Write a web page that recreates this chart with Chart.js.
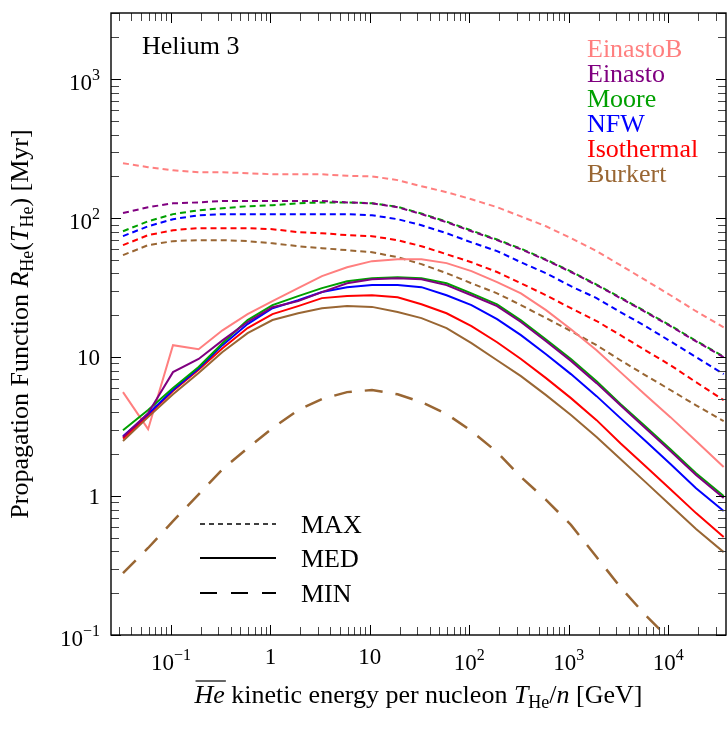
<!DOCTYPE html>
<html><head><meta charset="utf-8">
<script src="https://cdn.jsdelivr.net/npm/chart.js@4/dist/chart.umd.min.js"></script>
<style>html,body{margin:0;padding:0;background:#fff;}#wrap{width:727px;height:729px;}</style>
</head><body><div id="wrap"><canvas id="c" width="727" height="729"></canvas></div>
<script>
// Kinetic energy per nucleon [GeV]
const energy = [0.033, 0.059, 0.105, 0.19, 0.33, 0.59, 1.05, 1.9, 3.3, 5.9, 10.5, 19, 33, 59, 105, 190, 330, 590, 1050, 1900, 3300, 5900, 10500, 19000, 36000];

// MAX propagation (short dashed)
const einastoB_max = [249, 233, 221, 214, 214, 211, 207, 207, 207, 202, 200, 188, 170, 154, 137, 120, 103, 87.5, 71.8, 58, 45.9, 35.8, 27.9, 21.4, 16.4];
const einasto_max  = [109, 120, 128, 130, 133, 133, 133, 133, 133, 130, 128, 120, 107, 93.6, 80.6, 69.5, 59.8, 49.9, 41, 33, 26.6, 21.1, 16.7, 13, 10];
const moore_max    = [80.6, 95, 107, 114, 118, 122, 124, 128, 130, 130, 128, 121, 108, 94.5, 81.5, 70.2, 60.4, 50.4, 41.4, 33.3, 26.9, 21.3, 16.9, 13.1, 10.1];
const nfw_max      = [74.3, 87.5, 98.4, 105, 107, 107, 107, 107, 107, 107, 105, 98.4, 89, 78, 67, 58, 48.2, 40.2, 32.4, 26.6, 21.1, 16.7, 13, 10, 7.55];
const iso_max      = [64, 75.5, 82, 84.8, 84.8, 84.8, 83.4, 79.3, 78, 75.5, 74.3, 69.5, 62.9, 55.1, 48.2, 41, 34, 27.9, 22.5, 18.2, 14.4, 11.2, 8.75, 6.6, 4.9];
const burkert_max  = [54.2, 64, 68.4, 69.5, 69.5, 68.4, 66, 62.9, 60.8, 58.9, 56.9, 52.4, 46.7, 40.2, 34, 28.8, 23.7, 19.1, 15.4, 12.2, 9.5, 7.4, 5.8, 4.5, 3.46];

// MED propagation (solid)
const einastoB_med = [5.6, 3.03, 12.2, 11.4, 15.6, 20.4, 25.3, 31.4, 38.3, 44.4, 49.1, 50.7, 50.7, 47.5, 41.6, 34.7, 28.8, 21.8, 15.9, 11.2, 7.8, 5.33, 3.7, 2.49, 1.62];
const einasto_med  = [2.66, 3.95, 7.8, 9.7, 13.2, 17.9, 22.9, 25.3, 29.4, 34, 36.4, 37, 36.4, 33, 27.9, 23.3, 17.9, 13, 9.4, 6.5, 4.5, 3.08, 2.11, 1.42, 0.97];
const moore_med    = [2.98, 4.16, 6.0, 8.5, 12.6, 18.5, 23.7, 27.5, 31.4, 35.2, 37, 37.6, 37, 34, 28.8, 24, 18.4, 13.4, 9.7, 6.7, 4.6, 3.17, 2.17, 1.46, 1.0];
const nfw_med      = [2.7, 3.9, 5.8, 8.3, 12.2, 17.3, 22.5, 25.7, 29.4, 31.9, 33, 33, 31.9, 27.9, 23.7, 18.8, 14.4, 10.5, 7.55, 5.24, 3.64, 2.49, 1.7, 1.14, 0.78];
const iso_med      = [2.6, 3.83, 5.7, 8.1, 11.6, 16.2, 20.4, 23.3, 26.6, 27.5, 27.9, 27, 24, 20.7, 16.7, 12.8, 9.7, 7.06, 5.07, 3.52, 2.4, 1.64, 1.12, 0.754, 0.507];
const burkert_med  = [2.49, 3.7, 5.4, 7.7, 10.9, 14.9, 18.5, 20.7, 22.5, 23.3, 23, 21.1, 19.1, 16.2, 12.6, 9.5, 7.3, 5.33, 3.83, 2.66, 1.85, 1.26, 0.86, 0.58, 0.395];

// MIN propagation (long dashed)
const burkert_min  = [0.279, 0.423, 0.66, 1.03, 1.56, 2.21, 3.08, 4.16, 4.99, 5.6, 5.8, 5.4, 4.75, 3.9, 2.94, 2.07, 1.37, 0.94, 0.62, 0.364, 0.221, 0.139, 0.092, 0.061, 0.041];

const seriesNames  = ['EinastoB', 'Einasto', 'Moore', 'NFW', 'Isothermal', 'Burkert'];
const seriesColors = ['#ff7f7f', '#800080', '#00a000', '#0000ff', '#ff0000', '#996633'];
const styleNames   = ['MAX', 'MED', 'MIN'];

const xTickValues = [0.1, 1, 10, 100, 1000, 10000];
const xTickLabels = [['10','\u22121'], ['1',''], ['10',''], ['10','2'], ['10','3'], ['10','4']];
const yTickValues = [0.1, 1, 10, 100, 1000];
const yTickLabels = [['10','\u22121'], ['1',''], ['10',''], ['10','2'], ['10','3']];

const pts = arr => arr.map((v, i) => ({x: energy[i], y: v}));
const FONT = '"Liberation Serif", "Times New Roman", serif';

const maxSets = [einastoB_max, einasto_max, moore_max, nfw_max, iso_max, burkert_max];
const medSets = [einastoB_med, einasto_med, moore_med, nfw_med, iso_med, burkert_med];
const drawOrder = [1, 2, 3, 4, 5, 0];

const datasets = [];
datasets.push({label: 'Burkert MIN', data: pts(burkert_min), borderColor: seriesColors[5], borderWidth: 2.5, borderDash: [18, 13]});
drawOrder.forEach(i => datasets.push({label: seriesNames[i] + ' MED', data: pts(medSets[i]), borderColor: seriesColors[i], borderWidth: 2}));
drawOrder.forEach(i => datasets.push({label: seriesNames[i] + ' MAX', data: pts(maxSets[i]), borderColor: seriesColors[i], borderWidth: 2, borderDash: [6, 4]}));

function drawRich(ctx, parts, x, y, align) {
  let w = 0;
  parts.forEach(p => { ctx.font = p.f; p.w = ctx.measureText(p.t).width; w += p.w; });
  let cx = align === 'center' ? x - w / 2 : (align === 'right' ? x - w : x);
  ctx.textAlign = 'left';
  parts.forEach(p => {
    ctx.font = p.f;
    ctx.fillText(p.t, cx, y + (p.dy || 0));
    if (p.over) {
      ctx.save(); ctx.lineWidth = 1.2; ctx.beginPath();
      ctx.moveTo(cx + 1, y - 22); ctx.lineTo(cx + p.w + 1, y - 22); ctx.stroke(); ctx.restore();
    }
    cx += p.w;
  });
}
function powParts(lab, size, supSize) {
  const parts = [{t: lab[0], f: size + 'px ' + FONT}];
  if (lab[1]) parts.push({t: lab[1], f: supSize + 'px ' + FONT, dy: -10});
  return parts;
}

const deco = {
  id: 'deco',
  afterDraw(chart) {
    const ctx = chart.ctx, xs = chart.scales.x, ys = chart.scales.y, a = chart.chartArea;
    ctx.save();
    ctx.fillStyle = '#000'; ctx.strokeStyle = '#000';
    const seg = (x1, y1, x2, y2) => { ctx.beginPath(); ctx.moveTo(x1, y1); ctx.lineTo(x2, y2); ctx.stroke(); };
    ctx.lineWidth = 1;
    for (let d = -2; d <= 4; d++) for (let m = 1; m <= 9; m++) {
      const v = m * Math.pow(10, d);
      if (v < xs.min || v > xs.max) continue;
      const px = Math.round(xs.getPixelForValue(v)) + 0.5;
      const len = m === 1 ? 10 : 8;
      ctx.strokeStyle = m === 1 ? '#000' : '#444';
      seg(px, a.bottom, px, a.bottom - len); seg(px, a.top, px, a.top + len);
    }
    for (let d = -1; d <= 3; d++) for (let m = 1; m <= 9; m++) {
      const v = m * Math.pow(10, d);
      if (v < ys.min || v > ys.max) continue;
      const py = Math.round(ys.getPixelForValue(v)) + 0.5;
      const len = m === 1 ? 10 : 8;
      ctx.strokeStyle = m === 1 ? '#000' : '#444';
      seg(a.left, py, a.left + len, py); seg(a.right, py, a.right - len, py);
    }
    ctx.strokeStyle = '#000'; ctx.lineWidth = 1.4;
    ctx.strokeRect(a.left, a.top, a.right - a.left, a.bottom - a.top);

    // tick labels
    ctx.textBaseline = 'alphabetic';
    xTickValues.forEach((v, i) => {
      const lab = xTickLabels[i];
      const px = xs.getPixelForValue(v);
      drawRich(ctx, powParts(lab, 23, 16), px, lab[1] ? a.bottom + 35 : a.bottom + 29, 'center');
    });
    yTickValues.forEach((v, i) => {
      const lab = yTickLabels[i];
      const py = ys.getPixelForValue(v);
      drawRich(ctx, powParts(lab, 23, 16), 100, lab[1] ? py + 11 : py + 8, 'right');
    });

    // axis titles
    const F26 = '26px ' + FONT, I26 = 'italic 26px ' + FONT, S18 = '18px ' + FONT;
    drawRich(ctx, [
      {t: 'He', f: I26, over: true}, {t: ' kinetic energy per nucleon ', f: F26},
      {t: 'T', f: I26}, {t: 'He', f: S18, dy: 5}, {t: '/', f: F26}, {t: 'n', f: I26}, {t: ' [GeV]', f: F26}
    ], (a.left + a.right) / 2, 703, 'center');
    ctx.save();
    ctx.translate(28, (a.top + a.bottom) / 2); ctx.rotate(-Math.PI / 2);
    drawRich(ctx, [
      {t: 'Propagation Function ', f: F26}, {t: 'R', f: I26}, {t: 'He', f: S18, dy: 5},
      {t: '(', f: F26}, {t: 'T', f: I26}, {t: 'He', f: S18, dy: 5}, {t: ')', f: F26}, {t: ' [Myr]', f: F26}
    ], 0, 0, 'center');
    ctx.restore();

    // panel title
    ctx.font = F26; ctx.textAlign = 'left'; ctx.fillStyle = '#000';
    ctx.fillText('Helium 3', 142, 54);

    // colour legend
    seriesNames.forEach((n, i) => {
      ctx.fillStyle = seriesColors[i];
      ctx.fillText(n, 587, 57 + 25 * i);
    });

    // style legend
    ctx.fillStyle = '#000'; ctx.strokeStyle = '#000';
    const ly = [524, 558, 593];
    const dashes = [[5, 4], [], [17, 14]];
    styleNames.forEach((n, i) => {
      ctx.setLineDash(dashes[i]); ctx.lineWidth = i === 0 ? 1.5 : 2;
      seg(200, ly[i], 276, ly[i]);
      ctx.setLineDash([]);
      ctx.fillText(n, 301, ly[i] + 9);
    });
    ctx.restore();
  }
};

new Chart(document.getElementById('c'), {
  type: 'line',
  data: {datasets},
  options: {
    responsive: false, animation: false, devicePixelRatio: 1,
    layout: {padding: {top: 13, right: 1, left: 0, bottom: 0}},
    plugins: {legend: {display: false}, tooltip: {enabled: false}},
    elements: {point: {radius: 0}, line: {tension: 0, fill: false}},
    scales: {
      x: {type: 'logarithmic', min: 0.025, max: 38000,
          ticks: {display: false}, grid: {display: false}, border: {display: false},
          afterFit(s) { s.height = 94; }},
      y: {type: 'logarithmic', min: 0.1, max: 3000,
          ticks: {display: false}, grid: {display: false}, border: {display: false},
          afterFit(s) { s.width = 111; }}
    }
  },
  plugins: [deco]
});
</script></body></html>
